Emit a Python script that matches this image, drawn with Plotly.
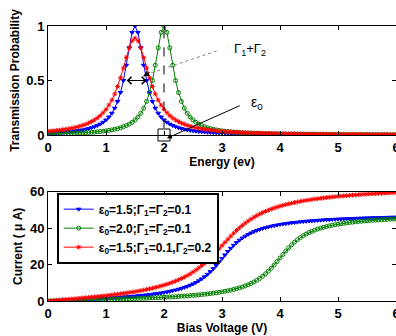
import numpy as np
import plotly.graph_objects as go

# ---------------- data ----------------
ENERGY = np.linspace(0, 6, 121)   # eV, sampled every 0.05
BIAS = np.linspace(0, 6, 121)     # V, sampled every 0.05

T_BLUE = [0.0175,0.0187,0.0200,0.0215,0.0231,0.0250,0.0270,0.0294,0.0320,0.0350,
          0.0385,0.0424,0.0471,0.0525,0.0588,0.0664,0.0755,0.0865,0.100,0.117,
          0.138,0.165,0.200,0.246,0.308,0.390,0.500,0.640,0.800,0.941,
          1.000,
          0.941,0.800,0.640,0.500,0.390,0.308,0.246,0.200,0.165,0.138,
          0.117,0.100,0.0865,0.0755,0.0664,0.0588,0.0525,0.0471,0.0424,0.0385,
          0.0350,0.0320,0.0294,0.0270,0.0250,0.0231,0.0215,0.0200,0.0187,0.0175,
          0.0164,0.0154,0.0145,0.0137,0.0129,0.0122,0.0116,0.0110,0.0104,0.0099,
          0.0094,0.0090,0.0086,0.0082,0.0078,0.0075,0.0072,0.0069,0.0066,0.0064,
          0.0061,0.0059,0.0057,0.0055,0.0053,0.0051,0.0049,0.0047,0.0046,0.0044,
          0.0043,0.0041,0.0040,0.0039,0.0038,0.0037,0.0036,0.0034,0.0033,0.0033,
          0.0032,0.0031,0.0030,0.0029,0.0028,0.0028,0.0027,0.0026,0.0026,0.0025,
          0.0024,0.0024,0.0023,0.0023,0.0022,0.0022,0.0021,0.0021,0.0020,0.0020]

T_GREEN = [0.0099,0.0104,0.0110,0.0116,0.0122,0.0129,0.0137,0.0145,0.0154,0.0164,
           0.0175,0.0187,0.0200,0.0215,0.0231,0.0250,0.0270,0.0294,0.0320,0.0350,
           0.0385,0.0424,0.0471,0.0525,0.0588,0.0664,0.0755,0.0865,0.100,0.117,
           0.138,0.165,0.200,0.246,0.308,0.390,0.500,0.640,0.800,0.941,
           1.000,
           0.941,0.800,0.640,0.500,0.390,0.308,0.246,0.200,0.165,0.138,
           0.117,0.100,0.0865,0.0755,0.0664,0.0588,0.0525,0.0471,0.0424,0.0385,
           0.0350,0.0320,0.0294,0.0270,0.0250,0.0231,0.0215,0.0200,0.0187,0.0175,
           0.0164,0.0154,0.0145,0.0137,0.0129,0.0122,0.0116,0.0110,0.0104,0.0099,
           0.0094,0.0090,0.0086,0.0082,0.0078,0.0075,0.0072,0.0069,0.0066,0.0064,
           0.0061,0.0059,0.0057,0.0055,0.0053,0.0051,0.0049,0.0047,0.0046,0.0044,
           0.0043,0.0041,0.0040,0.0039,0.0038,0.0037,0.0036,0.0034,0.0033,0.0033,
           0.0032,0.0031,0.0030,0.0029,0.0028,0.0028,0.0027,0.0026,0.0026,0.0025]

T_RED = [0.0342,0.0365,0.0390,0.0418,0.0449,0.0484,0.0523,0.0566,0.0615,0.0671,
         0.0734,0.0806,0.0889,0.0985,0.110,0.123,0.138,0.156,0.178,0.204,
         0.235,0.274,0.320,0.376,0.444,0.525,0.615,0.711,0.800,0.865,
         0.889,
         0.865,0.800,0.711,0.615,0.525,0.444,0.376,0.320,0.274,0.235,
         0.204,0.178,0.156,0.138,0.123,0.110,0.0985,0.0889,0.0806,0.0734,
         0.0671,0.0615,0.0566,0.0523,0.0484,0.0449,0.0418,0.0390,0.0365,0.0342,
         0.0321,0.0302,0.0284,0.0268,0.0254,0.0240,0.0228,0.0216,0.0206,0.0196,
         0.0186,0.0178,0.0170,0.0162,0.0155,0.0149,0.0143,0.0137,0.0131,0.0126,
         0.0121,0.0117,0.0112,0.0108,0.0105,0.0101,0.0097,0.0094,0.0091,0.0088,
         0.0085,0.0082,0.0080,0.0077,0.0075,0.0073,0.0071,0.0069,0.0067,0.0065,
         0.0063,0.0061,0.0060,0.0058,0.0057,0.0055,0.0054,0.0052,0.0051,0.0050,
         0.0049,0.0047,0.0046,0.0045,0.0044,0.0043,0.0042,0.0041,0.0040,0.0039]

I_BLUE = [0.00,0.07,0.14,0.20,0.27,0.34,0.41,0.48,0.55,0.62,
          0.70,0.77,0.85,0.92,1.00,1.08,1.16,1.25,1.33,1.42,
          1.52,1.61,1.71,1.81,1.92,2.03,2.15,2.27,2.40,2.53,
          2.67,2.82,2.97,3.14,3.32,3.50,3.70,3.92,4.15,4.40,
          4.67,4.96,5.28,5.63,6.01,6.43,6.89,7.40,7.98,8.62,
          9.35,10.16,11.08,12.13,13.30,14.63,16.11,17.75,19.52,21.41,
          23.35,25.28,27.17,28.94,30.57,32.06,33.38,34.56,35.60,36.52,
          37.33,38.06,38.69,39.27,39.78,40.24,40.66,41.03,41.37,41.68,
          41.97,42.23,42.46,42.69,42.89,43.08,43.25,43.44,43.60,43.74,
          43.88,44.01,44.14,44.25,44.37,44.47,44.57,44.66,44.75,44.84,
          44.92,45.00,45.07,45.14,45.21,45.28,45.34,45.40,45.46,45.51,
          45.57,45.62,45.67,45.72,45.76,45.81,45.85,45.89,45.93,45.97,
          46.01]

I_GREEN = [0.00,0.04,0.08,0.12,0.15,0.19,0.23,0.27,0.31,0.35,
           0.39,0.43,0.47,0.51,0.55,0.60,0.64,0.68,0.73,0.77,
           0.82,0.86,0.91,0.96,1.01,1.06,1.11,1.17,1.22,1.28,
           1.34,1.40,1.46,1.52,1.59,1.65,1.72,1.80,1.87,1.95,
           2.03,2.12,2.20,2.30,2.39,2.50,2.60,2.72,2.83,2.96,
           3.09,3.23,3.38,3.54,3.71,3.89,4.08,4.29,4.51,4.76,
           5.02,5.31,5.62,5.96,6.33,6.75,7.21,7.72,8.29,8.93,
           9.65,10.45,11.37,12.41,13.59,14.91,16.39,18.02,19.79,21.67,
           23.60,25.54,27.42,29.18,30.82,32.30,33.62,34.79,35.83,36.75,
           37.55,38.27,38.91,39.48,39.99,40.44,40.86,41.23,41.57,41.88,
           42.16,42.42,42.66,42.89,43.09,43.28,43.46,43.63,43.78,43.92,
           44.06,44.19,44.31,44.42,44.53,44.63,44.73,44.82,44.91,44.99,
           45.08]

I_RED = [0.00,0.13,0.27,0.40,0.53,0.67,0.80,0.94,1.08,1.22,
         1.36,1.51,1.65,1.80,1.95,2.11,2.27,2.43,2.60,2.77,
         2.95,3.13,3.32,3.52,3.72,3.93,4.15,4.38,4.62,4.87,
         5.13,5.41,5.70,6.00,6.32,6.66,7.03,7.41,7.82,8.26,
         8.71,9.22,9.75,10.32,10.94,11.61,12.33,13.10,13.96,14.87,
         15.88,16.96,18.13,19.38,20.74,22.18,23.71,25.31,26.98,28.70,
         30.44,32.18,33.89,35.56,37.16,38.70,40.12,41.48,42.73,43.89,
         44.97,45.96,46.87,47.71,48.49,49.21,49.86,50.47,51.04,51.56,
         52.05,52.50,52.92,53.32,53.68,54.03,54.35,54.66,54.95,55.22,
         55.48,55.72,55.95,56.17,56.37,56.57,56.76,56.93,57.10,57.26,
         57.42,57.56,57.70,57.84,57.98,58.10,58.22,58.34,58.45,58.56,
         58.66,58.76,58.86,58.95,59.05,59.13,59.22,59.31,59.38,59.46,
         59.54]

LEGEND_NAMES = ["ε<sub>0</sub>=1.5;Γ<sub>1</sub>=Γ<sub>2</sub>=0.1",
                "ε<sub>0</sub>=2.0;Γ<sub>1</sub>=Γ<sub>2</sub>=0.1",
                "ε<sub>0</sub>=1.5;Γ<sub>1</sub>=0.1,Γ<sub>2</sub>=0.2"]
X_TICKS = [0, 1, 2, 3, 4, 5, 6]
Y1_TICKS = [0, 0.5, 1]
Y1_TICKTEXT = ["0", "0.5", "1"]
Y2_TICKS = [0, 20, 40, 60]

# annotation anchors (data units)
EPS0_MARK = ([2.0], [0.0])
HALF_WIDTH = (1.33, 1.70, 0.5)

COLORS = ["rgb(0,0,255)", "rgb(0,128,0)", "rgb(255,0,0)"]
SYMBOLS = ["triangle-down", "circle-open", "asterisk-open"]

FONT = "Liberation Sans, Arial, sans-serif"

fig = go.Figure()

for T, c, s in zip([T_BLUE, T_GREEN, T_RED], COLORS, SYMBOLS):
    fig.add_trace(go.Scatter(
        x=ENERGY, y=T, mode="lines+markers", showlegend=False,
        line=dict(color=c, width=1),
        marker=dict(symbol=s, size=4, color=c, line=dict(color=c, width=1)),
        xaxis="x", yaxis="y"))

for I, c, s, n in zip([I_BLUE, I_GREEN, I_RED], COLORS, SYMBOLS, LEGEND_NAMES):
    fig.add_trace(go.Scatter(
        x=BIAS, y=I, mode="lines+markers", name=n,
        line=dict(color=c, width=1),
        marker=dict(symbol=s, size=4, color=c, line=dict(color=c, width=1)),
        xaxis="x2", yaxis="y2"))

# square marking epsilon_0 on the energy axis
fig.add_trace(go.Scatter(
    x=EPS0_MARK[0], y=EPS0_MARK[1], mode="markers", showlegend=False,
    marker=dict(symbol="square-open", size=12, color="black", line=dict(width=1)),
    xaxis="x", yaxis="y", cliponaxis=False))

axis_common = dict(showline=True, linecolor="black", linewidth=1, mirror="ticks",
                   ticks="inside", ticklen=4, tickcolor="black", showgrid=False,
                   zeroline=False, automargin=False,
                   tickfont=dict(family=FONT, size=13, color="black", weight="bold"))
title_font = dict(family=FONT, size=12, color="black", weight="bold")

fig.update_layout(
    width=396, height=336,
    margin=dict(l=48, r=0, t=26, b=35, autoexpand=False),
    paper_bgcolor="white", plot_bgcolor="white",
    xaxis=dict(domain=[0, 1], anchor="y", range=[0, 6], tickvals=X_TICKS,
               ticklabeloverflow="allow",
               title=dict(text="Energy (ev)", font=title_font, standoff=0),
               **axis_common),
    yaxis=dict(domain=[0.6036, 1], anchor="x", range=[0, 1], tickvals=Y1_TICKS,
               ticktext=Y1_TICKTEXT,
               title=dict(text="Transmission Probability", font=title_font, standoff=4),
               **axis_common),
    xaxis2=dict(domain=[0, 1], anchor="y2", range=[0, 6], tickvals=X_TICKS,
                ticklabeloverflow="allow",
                title=dict(text="Bias Voltage (V)", font=title_font, standoff=2),
                **axis_common),
    yaxis2=dict(domain=[0, 0.3975], anchor="x2", range=[0, 60], tickvals=Y2_TICKS,
                title=dict(text="Current ( μ A)", font=title_font, standoff=4),
                **axis_common),
    legend=dict(x=0.025, y=0.394, xanchor="left", yanchor="top",
                bgcolor="white", bordercolor="black", borderwidth=2,
                font=dict(family=FONT, size=12, color="black", weight="bold"),
                itemwidth=30, tracegroupgap=0),
    shapes=[
        dict(type="line", xref="x", yref="y", x0=2, x1=2, y0=0.06, y1=1,
             line=dict(color="black", width=1, dash="dash")),
        dict(type="line", xref="x", yref="y", x0=2.909, y0=0.771, x1=1.72, y1=0.56,
             line=dict(color="gray", width=1, dash="dot")),
    ],
    annotations=[
        dict(xref="x", yref="y", axref="x", ayref="y",
             x=HALF_WIDTH[1], y=HALF_WIDTH[2], ax=HALF_WIDTH[0], ay=HALF_WIDTH[2],
             text="", showarrow=True, arrowside="end+start", arrowhead=4,
             arrowsize=1.2, arrowwidth=1.2, arrowcolor="black"),
        dict(xref="x", yref="y", axref="x", ayref="y",
             x=1.64, y=0.537, ax=1.78, ay=0.585, text="", showarrow=True,
             arrowhead=2, arrowsize=1.2, arrowwidth=1, arrowcolor="black"),
        dict(xref="x", yref="y", x=3.48, y=0.78, text="Γ<sub>1</sub>+Γ<sub>2</sub>",
             showarrow=False, font=dict(family=FONT, size=13, color="black")),
        dict(xref="x", yref="y", axref="x", ayref="y",
             x=2.05, y=-0.03, ax=3.33, ay=0.275, text="", showarrow=True,
             arrowhead=2, arrowsize=1, arrowwidth=1, arrowcolor="black"),
        dict(xref="x", yref="y", x=3.6, y=0.29, text="ε<sub>0</sub>",
             showarrow=False, font=dict(family=FONT, size=14, color="black")),
    ],
)

fig.write_html("out.html", config={"displayModeBar": False},
               post_script="document.body.style.margin='0';document.body.style.overflow='hidden';")
